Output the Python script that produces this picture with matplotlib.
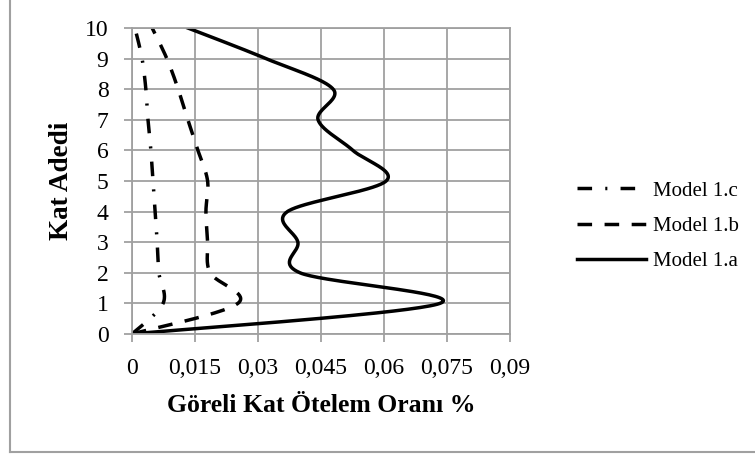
import numpy as np
import matplotlib.pyplot as plt
from matplotlib.lines import Line2D

plt.rcParams['font.family'] = ['Liberation Serif', 'DejaVu Serif']

# === Veriler ===
kat = [0, 1, 2, 3, 4, 5, 6, 7, 8, 9, 10]
model_1a = [0, 0.0733, 0.0400, 0.0395, 0.0370, 0.0605, 0.0526, 0.0443, 0.0479, 0.0319, 0.0133]
model_1b = [0, 0.0252, 0.0186, 0.0180, 0.0176, 0.0180, 0.0157, 0.0133, 0.0110, 0.0083, 0.0048]
model_1c = [0, 0.0074, 0.0064, 0.0060, 0.0055, 0.0050, 0.0045, 0.0038, 0.0033, 0.0024, 0.0007]

x_ticks = [0, 0.015, 0.03, 0.045, 0.06, 0.075, 0.09]
x_tick_labels = ['0', '0,015', '0,03', '0,045', '0,06', '0,075', '0,09']
y_ticks = list(range(0, 11))

W, H = 755, 454
ax_px = (132, 28, 510, 334)  # sol, ust, sag, alt


def smooth(x, y, sx, sy, n=40):
    # Excel "düzgün çizgi" benzeri bezier, piksel uzayinda
    p = np.column_stack([np.asarray(x) * sx, np.asarray(y) * sy])
    out = [p[0]]
    for i in range(len(p) - 1):
        p0 = p[i - 1] if i > 0 else p[i]
        p3 = p[i + 2] if i + 2 < len(p) else p[i + 1]
        c1 = p[i] + (p[i + 1] - p0) / 6
        c2 = p[i + 1] - (p3 - p[i]) / 6
        t = np.linspace(0, 1, n)[1:, None]
        seg = ((1 - t) ** 3 * p[i] + 3 * (1 - t) ** 2 * t * c1
               + 3 * (1 - t) * t ** 2 * c2 + t ** 3 * p[i + 1])
        out.extend(seg)
    out = np.array(out)
    return out[:, 0] / sx, out[:, 1] / sy


fig = plt.figure(figsize=(W / 100, H / 100), dpi=100)
ax = fig.add_axes([ax_px[0] / W, 1 - ax_px[3] / H,
                   (ax_px[2] - ax_px[0]) / W, (ax_px[3] - ax_px[1]) / H])

sx = (ax_px[2] - ax_px[0]) / 0.09
sy = (ax_px[3] - ax_px[1]) / 10

lw = 2.5
xs, ys = smooth(model_1c, kat, sx, sy)
l_c, = ax.plot(xs, ys, color='black', lw=lw, dashes=(4.2, 3.8, 0.6, 3.8), label='Model 1.c')
xs, ys = smooth(model_1b, kat, sx, sy)
l_b, = ax.plot(xs, ys, color='black', lw=lw, dashes=(4.2, 3.6), label='Model 1.b')
xs, ys = smooth(model_1a, kat, sx, sy)
l_a, = ax.plot(xs, ys, color='black', lw=lw, label='Model 1.a')

grid_c = '#a0a0a0'
ax.set_xlim(0, 0.09)
ax.set_ylim(0, 10)
ax.set_xticks(x_ticks)
ax.set_xticklabels(x_tick_labels)
ax.set_yticks(y_ticks)
ax.grid(True, color=grid_c, lw=1.3)
ax.set_axisbelow(True)
for s in ax.spines.values():
    s.set_color(grid_c)
    s.set_linewidth(1.3)
ax.tick_params(axis='both', colors=grid_c, labelcolor='black', labelsize=17,
               length=6, width=1.3, direction='out')
ax.tick_params(axis='y', pad=11)
ax.tick_params(axis='x', pad=11)

ax.set_xlabel('Göreli Kat Ötelem Oranı %', fontsize=18.5, fontweight='bold', labelpad=11)
ax.set_ylabel('Kat Adedi', fontsize=19.5, fontweight='bold', labelpad=8)

fig.legend(handles=[l_c, l_b, l_a], loc='center left',
           bbox_to_anchor=(577 / W, 1 - 226 / H), frameon=False,
           fontsize=15, handlelength=3.3, handletextpad=0.35,
           labelspacing=0.75, borderpad=0, borderaxespad=0)

# grafik cercevesi (sol ve alt kenar)
fig.add_artist(Line2D([10 / W, 10 / W], [1 - 452 / H, 1], color='#a0a0a0', lw=1.5))
fig.add_artist(Line2D([10 / W, 1], [1 - 452 / H, 1 - 452 / H], color='#a0a0a0', lw=1.5))

fig.savefig('out.png', dpi=100)
